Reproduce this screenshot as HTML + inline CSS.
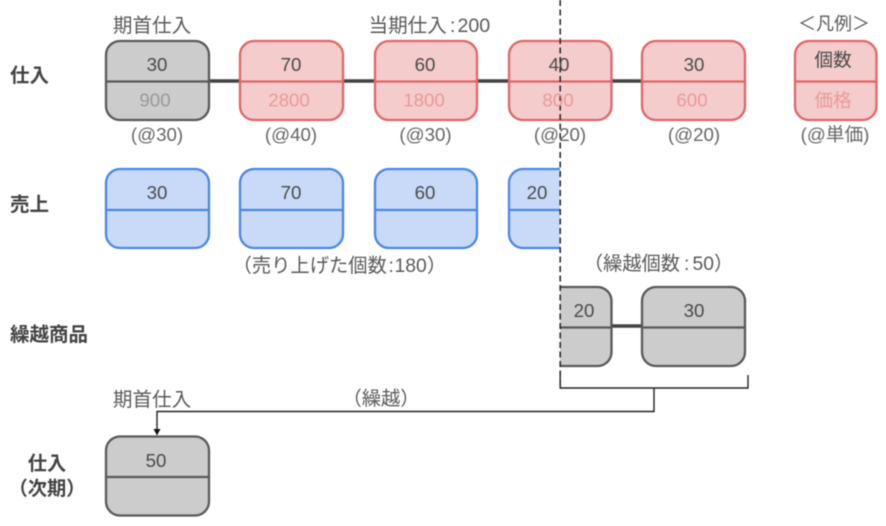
<!DOCTYPE html>
<html lang="ja">
<head>
<meta charset="utf-8">
<style>
html,body{margin:0;padding:0;background:#fff;width:886px;height:526px;overflow:hidden}
svg{display:block;filter:blur(.45px)}
text{font-family:"Liberation Sans","Noto Sans CJK JP",sans-serif;font-size:19.3px;fill:#595959;text-anchor:middle}
.st{text-anchor:start}
.v{fill:#4a4a4a;font-size:18.7px}
.s{font-size:18.7px;fill:#666}
.b{font-weight:bold;font-size:19.5px;fill:#434343;text-anchor:start}
.c{font-weight:bold;font-size:19.3px;fill:#434343}
.g{fill:#999;font-size:18.7px}
.r{fill:#ea9999;font-size:18.7px}
.gy rect{fill:#ccc;stroke:#595959}
.gy line{stroke:#595959}
.rd rect{fill:#f4cccc;stroke:#e06666}
.rd line{stroke:#e06666}
.bl rect{fill:#c9daf8;stroke:#4a86e8}
.bl line{stroke:#4a86e8}
rect,.gy line,.rd line,.bl line{stroke-width:2.3}
</style>
</head>
<body>
<svg width="886" height="526" viewBox="0 0 886 526" xmlns="http://www.w3.org/2000/svg">
<!-- connectors -->
<g stroke="#434343" stroke-width="3.5" fill="none">
<line x1="209" y1="81" x2="240" y2="81"/>
<line x1="343" y1="81" x2="375" y2="81"/>
<line x1="477" y1="81" x2="509" y2="81"/>
<line x1="611" y1="81" x2="642" y2="81"/>
<line x1="611" y1="326" x2="642" y2="326"/>
</g>

<!-- row 1 -->
<g class="gy"><rect x="106" y="41" width="103" height="79" rx="14"/><line x1="106" y1="81.5" x2="209" y2="81.5"/></g>
<g class="rd"><rect x="240" y="41" width="103" height="79" rx="14"/><line x1="240" y1="81.5" x2="343" y2="81.5"/></g>
<g class="rd"><rect x="375" y="41" width="102" height="79" rx="14"/><line x1="375" y1="81.5" x2="477" y2="81.5"/></g>
<g class="rd"><rect x="509" y="41" width="102.5" height="79" rx="14"/><line x1="509" y1="81.5" x2="611.5" y2="81.5"/></g>
<g class="rd"><rect x="642" y="41" width="103" height="79" rx="14"/><line x1="642" y1="81.5" x2="745" y2="81.5"/></g>
<g class="rd"><rect x="795" y="41" width="81.5" height="79" rx="14"/><line x1="795" y1="81.5" x2="876.5" y2="81.5"/></g>

<!-- row 2: sales -->
<g class="bl"><rect x="106" y="169" width="103" height="79" rx="14"/><line x1="106" y1="210" x2="209" y2="210"/></g>
<g class="bl"><rect x="240" y="169" width="103" height="79" rx="14"/><line x1="240" y1="210" x2="343" y2="210"/></g>
<g class="bl"><rect x="375" y="169" width="102" height="79" rx="14"/><line x1="375" y1="210" x2="477" y2="210"/></g>
<g class="bl">
<path d="M560 169H523a14 14 0 0 0-14 14v51a14 14 0 0 0 14 14h37z" fill="#c9daf8"/>
<path d="M560 169H523a14 14 0 0 0-14 14v51a14 14 0 0 0 14 14h37" fill="none" stroke="#4a86e8" stroke-width="2.3"/>
<line x1="509" y1="210" x2="560" y2="210"/>
</g>

<!-- row 3: carry over -->
<g class="gy">
<path d="M560 287H597.5a14 14 0 0 1 14 14v51a14 14 0 0 1-14 14H560z" fill="#ccc"/>
<path d="M560 287H597.5a14 14 0 0 1 14 14v51a14 14 0 0 1-14 14H560" fill="none" stroke="#595959" stroke-width="2.3"/>
<line x1="560" y1="327.5" x2="611.5" y2="327.5"/>
</g>
<g class="gy"><rect x="642" y="287" width="103" height="79" rx="14"/><line x1="642" y1="327.5" x2="745" y2="327.5"/></g>

<!-- row 4 -->
<g class="gy"><rect x="106" y="436.5" width="103" height="79" rx="14"/><line x1="106" y1="477" x2="209" y2="477"/></g>

<!-- bracket and arrow -->
<g fill="none" stroke="#222" stroke-width="1.4">
<path d="M560.2 376V388H748V375"/>
<path d="M654 388V411.5H157V430"/>
</g>
<path d="M153.5 429H160.5L157 435.5z" fill="#111"/>

<!-- dashed line -->
<line x1="560.2" y1="0" x2="560.2" y2="388" stroke="#222" stroke-width="1.5" stroke-dasharray="6 3.5"/>

<!-- headers -->
<text x="152" y="32" style="font-size:19.6px">期首仕入</text>
<text class="st" x="368.5" y="32" style="font-size:19.6px">当期仕入</text>
<text class="st" x="450" y="32" style="font-size:19.6px">:</text>
<text class="st" x="457.5" y="32" style="font-size:19.6px">200</text>
<text x="834" y="30" style="font-size:18px">＜凡例＞</text>

<!-- row labels -->
<text class="b" x="10" y="82">仕入</text>
<text class="b" x="10" y="211">売上</text>
<text class="b" x="10" y="341">繰越商品</text>
<text class="c" x="47" y="470">仕入</text>
<text class="c" x="47" y="495">（次期）</text>

<!-- row 1 values -->
<text class="v" x="157" y="71">30</text>
<text class="v" x="291" y="71">70</text>
<text class="v" x="425" y="71">60</text>
<text class="v" x="559" y="71">40</text>
<text class="v" x="694" y="71">30</text>
<text class="v" x="833" y="66.5">個数</text>

<text class="g" x="155" y="106.5">900</text>
<text class="r" x="289" y="106.5">2800</text>
<text class="r" x="424" y="106.5">1800</text>
<text class="r" x="558" y="106.5">800</text>
<text class="r" x="692" y="106.5">600</text>
<text class="r" x="833" y="107">価格</text>

<!-- unit prices -->
<text class="s" x="157" y="141">(@30)</text>
<text class="s" x="291" y="141">(@40)</text>
<text class="s" x="425.5" y="141">(@30)</text>
<text class="s" x="560" y="141">(@20)</text>
<text class="s" x="694" y="141">(@20)</text>
<text class="s" x="835" y="141">(@単価)</text>

<!-- row 2 values -->
<text class="v" x="157" y="199">30</text>
<text class="v" x="291" y="199">70</text>
<text class="v" x="425" y="199">60</text>
<text class="v" x="537" y="199">20</text>
<text class="st" x="232.6" y="272">（売り上げた個数</text>
<text class="st" x="388.5" y="272">:</text>
<text class="st" x="394.5" y="272">180</text>
<text class="st" x="427" y="272">）</text>

<!-- row 3 values -->
<text class="st" x="583.7" y="270">（繰越個数</text>
<text class="st" x="684" y="270">:</text>
<text class="st" x="692.5" y="270">50</text>
<text class="st" x="714" y="270">）</text>
<text class="v" x="584" y="317">20</text>
<text class="v" x="694" y="317">30</text>

<!-- row 4 values -->
<text x="152" y="406" style="font-size:19.6px">期首仕入</text>
<text x="381" y="405" style="font-size:19.3px">（繰越）</text>
<text class="v" x="156" y="467">50</text>
</svg>
</body>
</html>
